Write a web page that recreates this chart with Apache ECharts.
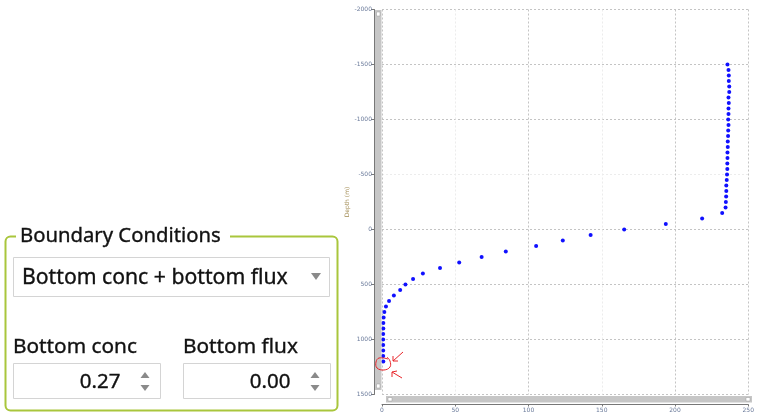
<!DOCTYPE html>
<html>
<head>
<meta charset="utf-8">
<script src="https://cdn.jsdelivr.net/npm/echarts@6/dist/echarts.min.js"></script>
<style>
html,body{margin:0;padding:0;background:#fff;}
#chart{width:757px;height:414px;}
</style>
</head>
<body>
<div id="chart"></div>
<script>
// ---- data ----
const depthValues = [-1500,-1450,-1400,-1350,-1300,-1250,-1200,-1150,-1100,-1050,
  -1000,-950,-900,-850,-800,-750,-700,-650,-600,-550,
  -500,-450,-400,-350,-300,-250,-200,-150,-100,-50,
  0,50,100,150,200,250,300,350,400,450,
  500,550,600,650,700,750,800,850,900,950,
  1000,1050,1100,1150,1200];
const concValues = [235.8,236.5,236.7,236.7,237.0,237.0,236.5,236.7,236.5,236.5,
  236.3,236.5,236.3,236.2,236.0,236.0,235.8,235.8,235.7,235.7,
  235.5,235.3,235.0,235.0,234.9,234.7,234.5,232.2,218.5,193.7,
  165.3,142.4,123.4,105.2,84.5,68.0,52.7,39.6,27.9,21.2,
  16.0,12.4,8.1,4.8,2.7,1.6,1.1,0.9,0.9,0.8,
  0.8,0.8,0.8,0.8,0.9];
const xTicks = {min:0, max:250, interval:50};
const yTicks = {min:-2000, max:1500, interval:500};
const yAxisName = 'Depth (m)';
const panelTitle = 'Boundary Conditions';
const dropdownText = 'Bottom conc + bottom flux';
const concLabel = 'Bottom conc';
const fluxLabel = 'Bottom flux';
const concValueText = '0.27';
const fluxValueText = '0.00';

const points = depthValues.map((d,i)=>[concValues[i], d]);

const chart = echarts.init(document.getElementById('chart'));
const uiFont = '"Noto Sans", "Open Sans", sans-serif';
const green = '#a9c63c';
const ink = '#111';
const dash = [2,2];

function uiText(txt, x, y, size, align){
  return {type:'text', style:{text:txt, x:x, y:y, font:size+'px '+uiFont, fill:ink, stroke:ink, lineWidth:0.35,
    textAlign:align||'left', textVerticalAlign:'middle'}, z:11};
}

function spin(x, y, w, h, txt){
  return [
    {type:'rect', shape:{x:x, y:y, width:w, height:h}, style:{fill:'#fff', stroke:'#d4d4d4', lineWidth:1}, z:10},
    uiText(txt, x+w-40, y+h/2+1, 20.5, 'right'),
    {type:'polygon', shape:{points:[[x+w-20,y+h/2-3],[x+w-11,y+h/2-3],[x+w-15.5,y+h/2-9]]}, style:{fill:'#8a8a8a'}, z:11},
    {type:'polygon', shape:{points:[[x+w-20,y+h/2+4],[x+w-11,y+h/2+4],[x+w-15.5,y+h/2+10]]}, style:{fill:'#8a8a8a'}, z:11}
  ];
}

const graphics = [
  // group box
  {type:'rect', shape:{x:5.5, y:236.5, width:332, height:174, r:5}, style:{fill:'none', stroke:green, lineWidth:2}, z:5},
  {type:'rect', shape:{x:16, y:225, width:214, height:22}, style:{fill:'#fff'}, z:6},
  uiText(panelTitle, 20, 236, 20.3),
  // dropdown
  {type:'rect', shape:{x:13.5, y:257.5, width:316, height:39}, style:{fill:'#fff', stroke:'#d4d4d4', lineWidth:1}, z:10},
  uiText(dropdownText, 22, 278, 21.2),
  {type:'polygon', shape:{points:[[311,273],[321,273],[316,280]]}, style:{fill:'#8a8a8a'}, z:11},
  // labels
  uiText(concLabel, 13, 347, 20.8),
  uiText(fluxLabel, 183, 347, 20.8),
  ...spin(13.5, 363.5, 147, 35, concValueText),
  ...spin(183.5, 363.5, 147, 35, fluxValueText),
  // scrollbars beside the plot
  {type:'rect', shape:{x:375, y:10, width:6.5, height:380}, style:{fill:'#c6c6c6'}, z:3},
  {type:'rect', shape:{x:376.5, y:12, width:3.5, height:4}, style:{fill:'#fff', stroke:'#999', lineWidth:0.5}, z:4},
  {type:'rect', shape:{x:376.5, y:384, width:3.5, height:4}, style:{fill:'#fff', stroke:'#999', lineWidth:0.5}, z:4},
  {type:'rect', shape:{x:386, y:396, width:366, height:6.5}, style:{fill:'#c6c6c6'}, z:3},
  {type:'rect', shape:{x:388, y:397.5, width:4, height:3.5}, style:{fill:'#fff', stroke:'#999', lineWidth:0.5}, z:4},
  {type:'rect', shape:{x:746, y:397.5, width:4, height:3.5}, style:{fill:'#fff', stroke:'#999', lineWidth:0.5}, z:4},
  // red hand-drawn annotation
  {type:'polyline', shape:{points:[[388,359],[379,358],[376,362],[377,368],[384,370],[390,367],[390,361],[387,357]], smooth:0.4}, style:{stroke:'#e8262b', lineWidth:1, fill:'none'}, z:20},
  {type:'polyline', shape:{points:[[403,352],[393,361]]}, style:{stroke:'#e8262b', lineWidth:1}, z:20},
  {type:'polyline', shape:{points:[[393,356],[393,361],[398,361]]}, style:{stroke:'#e8262b', lineWidth:1, fill:'none'}, z:20},
  {type:'polyline', shape:{points:[[402,378],[392,372]]}, style:{stroke:'#e8262b', lineWidth:1}, z:20},
  {type:'polyline', shape:{points:[[397,371],[392,372],[392,377]]}, style:{stroke:'#e8262b', lineWidth:1, fill:'none'}, z:20}
];

const plainNum = v => String(v);

chart.setOption({
  animation:false,
  backgroundColor:'#fff',
  grid:{left:382, top:9.5, width:370, height:385},
  xAxis:{
    type:'value', min:xTicks.min, max:xTicks.max, interval:xTicks.interval,
    position:'bottom', offset:10,
    axisLine:{show:true, onZero:false, lineStyle:{color:'#777', width:1}},
    axisTick:{show:true, length:2, lineStyle:{color:'#777'}},
    axisLabel:{fontSize:6, color:'#6a7a9a', margin:3, fontFamily:'DejaVu Sans', formatter:plainNum},
    splitLine:{show:true, lineStyle:{type:dash, width:1, color:['#c4c4c4','#ececec','#c4c4c4','#ececec','#c4c4c4','#c4c4c4']}}
  },
  yAxis:{
    type:'value', inverse:true, min:yTicks.min, max:yTicks.max, interval:yTicks.interval,
    position:'left', offset:8,
    name:yAxisName, nameLocation:'middle', nameGap:19, nameRotate:90,
    nameTextStyle:{fontSize:6, color:'#a08a50', fontFamily:'DejaVu Sans'},
    axisLine:{show:true, onZero:false, lineStyle:{color:'#777', width:1}},
    axisTick:{show:true, length:3, lineStyle:{color:'#777'}},
    axisLabel:{fontSize:6, color:'#6a7a9a', margin:2, fontFamily:'DejaVu Sans', formatter:plainNum},
    splitLine:{show:true, lineStyle:{type:dash, width:1, color:['#c4c4c4','#c4c4c4','#c4c4c4','#ececec','#c4c4c4','#c4c4c4','#c4c4c4','#c4c4c4']}}
  },
  series:[{
    type:'scatter',
    data:points,
    symbol:'circle',
    symbolSize:4,
    itemStyle:{color:'#1010ff', opacity:1}
  }],
  graphic:graphics
});
</script>
</body>
</html>
